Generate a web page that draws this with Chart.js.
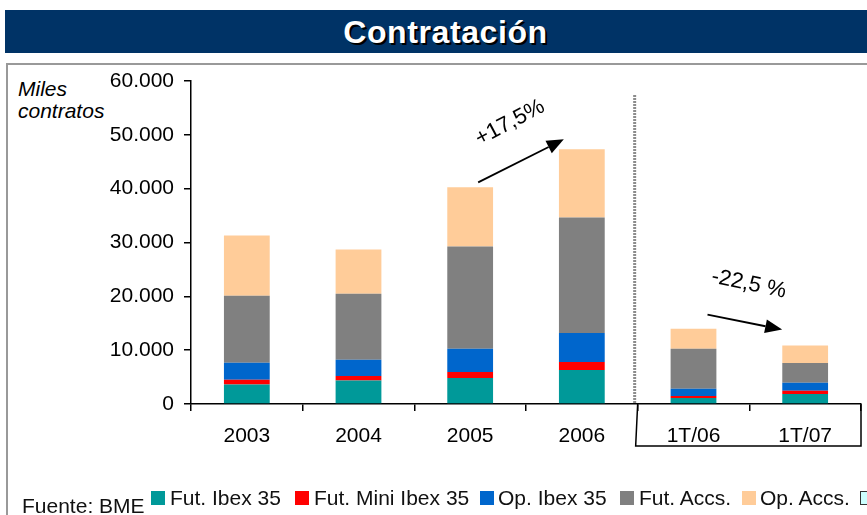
<!DOCTYPE html>
<html>
<head>
<meta charset="utf-8">
<script src="https://cdn.jsdelivr.net/npm/chart.js@4.4.1/dist/chart.umd.min.js"></script>
<style>
  html, body { margin:0; padding:0; background:#fff; }
  body { width:867px; height:515px; position:relative; overflow:hidden;
         font-family:"Liberation Sans", Arial, sans-serif; }
  #titleBar { position:absolute; left:5px; top:10px; width:862px; height:43px; background:#003366; }
  #titleBar span { position:absolute; left:19px; right:0; top:6px; text-align:center;
         color:#fff; font-weight:bold; font-size:32px; line-height:32px; letter-spacing:0.6px;
         text-shadow:2px 2px 0 #000; }
  #frame { position:absolute; left:6px; top:63px; width:870px; height:470px; border:2px solid #999; }
  #unit { position:absolute; left:18px; top:78px; font-style:italic; font-size:21px; line-height:22px; }
  #chart { position:absolute; left:0; top:0; }
  .lg { position:absolute; font-size:21px; line-height:21px; white-space:nowrap; color:#111; }
  .sw { position:absolute; width:14px; height:14px; top:491px; }
</style>
</head>
<body>
<div id="titleBar"><span>Contratación</span></div>
<div id="frame"></div>
<div id="unit">Miles<br>contratos</div>
<canvas id="chart" width="867" height="515"></canvas>
<div id="legend"></div>

<script>
/* ================================================================
   DATA — miles de contratos
================================================================ */
const categories = ['2003', '2004', '2005', '2006', '1T/06', '1T/07'];
const futIbex    = [3600, 4350, 4850, 6300, 1100, 1850];
const futMini    = [900, 850, 1100, 1500, 400, 600];
const opIbex     = [3150, 3000, 4300, 5400, 1350, 1500];
const futAccs    = [12450, 12300, 19000, 21450, 7400, 3650];
const opAccs     = [11200, 8200, 11000, 12650, 3750, 3250];
const yTicks     = [0, 10000, 20000, 30000, 40000, 50000, 60000];

const seriesNames  = ['Fut. Ibex 35', 'Fut. Mini Ibex 35', 'Op. Ibex 35', 'Fut. Accs.', 'Op. Accs.'];
const seriesColors = ['#009999', '#ff0000', '#0066cc', '#808080', '#ffcc99'];
const seriesData   = [futIbex, futMini, opIbex, futAccs, opAccs];

const notes = [
  { from: 2, to: 3, text: '+17,5%',  angle: -28 },
  { from: 4, to: 5, text: '-22,5 %', angle: 12 }
];

const FONT = '"Liberation Sans", Arial, sans-serif';
const fmt  = v => String(v).replace(/\B(?=(\d{3})+(?!\d))/g, '.');
const total = i => seriesData.reduce((s, d) => s + d[i], 0);

/* ── legend (html, below the chart) ── */
const legendPos = [[151, 170], [295, 314], [480, 498], [620, 639], [742, 760]];
const legendEl  = document.getElementById('legend');
legendEl.innerHTML =
  `<div class="lg" style="left:22px;top:495px;">Fuente: BME</div>` +
  seriesNames.map((n, i) => `
    <div class="sw" style="left:${legendPos[i][0]}px;background:${seriesColors[i]};"></div>
    <div class="lg" style="left:${legendPos[i][1]}px;top:487px;">${n}</div>`).join('') +
  `<div class="sw" style="left:860px;width:12px;height:12px;background:#ccffff;border:1px solid #333;"></div>`;

/* ================================================================
   DECORATIONS — separator, 1T box, growth arrows
================================================================ */
function arrow(ctx, x1, y1, x2, y2) {
  const a = Math.atan2(y2 - y1, x2 - x1), L = 17, W = 7;
  const bx = x2 - L * Math.cos(a), by = y2 - L * Math.sin(a);
  ctx.beginPath(); ctx.moveTo(x1, y1); ctx.lineTo(bx, by); ctx.stroke();
  ctx.beginPath();
  ctx.moveTo(x2, y2);
  ctx.lineTo(bx + W * Math.sin(a), by - W * Math.cos(a));
  ctx.lineTo(bx - W * Math.sin(a), by + W * Math.cos(a));
  ctx.closePath(); ctx.fill();
}

const decor = {
  id: 'decor',
  afterDraw(chart) {
    const { ctx, chartArea: ca, scales: { x, y } } = chart;
    const split = (x.getPixelForValue(3) + x.getPixelForValue(4)) / 2;
    ctx.save();

    // dotted separator
    ctx.strokeStyle = '#8c8c8c'; ctx.lineWidth = 3; ctx.setLineDash([2, 1]);
    ctx.beginPath(); ctx.moveTo(split - 3, 95); ctx.lineTo(split - 3, ca.bottom); ctx.stroke();
    ctx.setLineDash([]);

    // box under quarterly labels
    ctx.strokeStyle = '#000'; ctx.lineWidth = 1.5;
    ctx.beginPath();
    ctx.moveTo(split, ca.bottom); ctx.lineTo(split - 2, 446);
    ctx.lineTo(ca.right, 446); ctx.lineTo(ca.right, ca.bottom);
    ctx.stroke();

    // growth arrows + labels
    ctx.fillStyle = '#000'; ctx.lineWidth = 1.8;
    ctx.font = '22px ' + FONT; ctx.textAlign = 'center'; ctx.textBaseline = 'middle';
    notes.forEach(n => {
      const up = total(n.to) > total(n.from);
      const x1 = x.getPixelForValue(n.from) + (up ? 8 : 14);
      const y1 = y.getPixelForValue(total(n.from)) - (up ? 5 : 14);
      const x2 = x.getPixelForValue(n.to) - (up ? 18 : 23);
      const y2 = y.getPixelForValue(total(n.to)) - (up ? 10 : 16);
      arrow(ctx, x1, y1, x2, y2);
      ctx.save();
      ctx.translate((x1 + x2) / 2 + (up ? -11 : 4), (y1 + y2) / 2 - 38);
      ctx.rotate(n.angle * Math.PI / 180);
      ctx.fillText(n.text, 0, 0);
      ctx.restore();
    });
    ctx.restore();
  }
};

/* ================================================================
   STACKED BAR CHART
================================================================ */
new Chart(document.getElementById('chart'), {
  type: 'bar',
  data: {
    labels: categories,
    datasets: seriesNames.map((n, i) => ({
      label: n,
      data: seriesData[i],
      backgroundColor: seriesColors[i],
      borderWidth: 0,
      categoryPercentage: 1,
      barPercentage: 0.41
    }))
  },
  options: {
    responsive: false,
    animation: false,
    devicePixelRatio: 1,
    layout: { padding: { left: 0, top: 81, right: 6, bottom: 0 } },
    plugins: { legend: { display: false }, tooltip: { enabled: false } },
    scales: {
      x: {
        stacked: true,
        grid: { offset: true, drawOnChartArea: false, tickLength: 7, color: '#000', lineWidth: 1.5 },
        border: { color: '#000', width: 1.5 },
        ticks: { color: '#000', font: { family: FONT, size: 21 }, padding: 13, maxRotation: 0, autoSkip: false },
        afterFit: s => { s.height = 111; }
      },
      y: {
        stacked: true,
        min: 0, max: 60000,
        afterBuildTicks: s => { s.ticks = yTicks.map(v => ({ value: v })); },
        grid: { drawOnChartArea: false, tickLength: 7, color: '#000', lineWidth: 1.5 },
        border: { color: '#000', width: 1.5 },
        ticks: { color: '#000', font: { family: FONT, size: 21 }, padding: 10, callback: v => fmt(v) },
        afterFit: s => { s.width = 191; }
      }
    }
  },
  plugins: [decor]
});
</script>
</body>
</html>
